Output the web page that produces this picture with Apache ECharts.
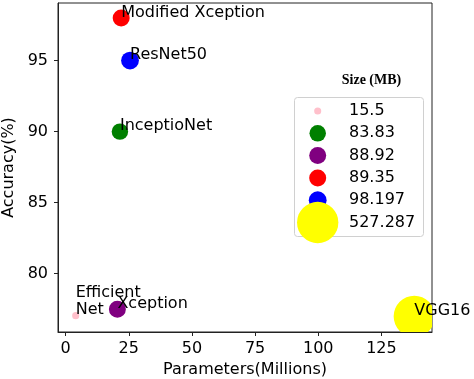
<!DOCTYPE html>
<html><head><meta charset="utf-8">
<script src="https://cdn.jsdelivr.net/npm/echarts@6/dist/echarts.min.js"></script>
<style>html,body{margin:0;padding:0;background:#fff}#c{width:474px;height:379px}</style>
</head><body><div id="c"></div>
<script>
// ---- data ----
const models = ['Efficient\nNet', 'InceptioNet', 'Xception', 'Modified Xception', 'ResNet50', 'VGG16'];
const params = [4, 21.5, 20.5, 22, 25.5, 138];
const accuracy = [77.05, 90, 77.5, 98, 95, 77];
const sizeMB = ['15.5', '83.83', '88.92', '89.35', '98.197', '527.287'];
const xTicks = [0, 25, 50, 75, 100, 125];
const yTicks = [80, 85, 90, 95];

// ---- style ----
const colors = ['#ffc0cb', '#008000', '#800080', '#ff0000', '#0000ff', '#ffff00'];
const diam = v => 1.8 * Math.sqrt(parseFloat(v));
const FONT = 'DejaVu Sans';
const axisCol = '#222';

const markerSeries = sizeMB.map((s, i) => ({
  type: 'custom',
  name: s,
  clip: true,
  z: 2,
  silent: true,
  itemStyle: { color: colors[i] },
  encode: { x: 0, y: 1 },
  data: [[params[i], accuracy[i]]],
  renderItem: (p, api) => {
    const pt = api.coord([api.value(0), api.value(1)]);
    return { type: 'circle', shape: { cx: pt[0], cy: pt[1], r: diam(s) / 2 }, style: { fill: colors[i] } };
  }
}));

const labelSeries = {
  type: 'scatter',
  name: 'labels',
  z: 10,
  silent: true,
  symbolSize: 1,
  itemStyle: { color: 'rgba(0,0,0,0)', opacity: 1 },
  emphasis: { disabled: true },
  label: {
    show: true, position: [0.5, 0.5], align: 'left', verticalAlign: 'bottom',
    offset: [0, 3], color: '#000', opacity: 1, textBorderWidth: 0, fontSize: 16, fontFamily: FONT, lineHeight: 17
  },
  data: params.map((x, i) => ({ value: [x, accuracy[i]], label: { formatter: models[i] } }))
};

const rowY0 = 111, rowStep = 22.3, iconCx = 317.7, textX = 349;
const legends = sizeMB.map((s, i) => {
  const d = diam(s);
  return {
    data: [s], icon: 'circle', selectedMode: false, padding: 0,
    left: iconCx - d / 2, top: rowY0 + rowStep * i - Math.max(d, 16) / 2,
    itemWidth: d, itemHeight: d,
    textStyle: { fontSize: 16, fontFamily: FONT, color: '#000', padding: [0, 0, 0, textX - (iconCx + d / 2 + 5)] }
  };
});

const chart = echarts.init(document.getElementById('c'), null, { renderer: 'canvas' });
chart.setOption({
  animation: false,
  backgroundColor: '#fff',
  grid: { left: 58, right: 42, top: 3, bottom: 47, outerBoundsMode: 'none', containLabel: false, show: true, borderColor: axisCol, borderWidth: 1, backgroundColor: 'transparent' },
  legend: legends,
  graphic: [
    { type: 'rect', z: 1, shape: { x: 294.5, y: 97.5, width: 129, height: 139, r: 3 }, style: { fill: '#fff', stroke: '#d0d0d0', lineWidth: 1 } },
    { type: 'text', z: 5, x: 371.5, y: 80, style: { text: 'Size (MB)', fontFamily: 'Liberation Serif', fontWeight: 'bold', fontSize: 14, fill: '#000', align: 'center', verticalAlign: 'middle' } }
  ],
  xAxis: {
    type: 'value', min: -3, max: 145,
    splitLine: { show: false },
    axisLine: { show: true, onZero: false, lineStyle: { color: axisCol } },
    axisTick: { show: true, customValues: xTicks, length: 4, lineStyle: { color: axisCol } },
    axisLabel: { customValues: xTicks, margin: 9, fontSize: 16, fontFamily: FONT, color: '#000' },
    name: 'Parameters(Millions)', nameLocation: 'middle', nameGap: 29,
    nameTextStyle: { fontSize: 16, fontFamily: FONT, color: '#000' }
  },
  yAxis: {
    type: 'value', min: 75.9, max: 99.05,
    splitLine: { show: false },
    axisLine: { show: true, onZero: false, lineStyle: { color: axisCol } },
    axisTick: { show: true, customValues: yTicks, length: 4, lineStyle: { color: axisCol } },
    axisLabel: { customValues: yTicks, margin: 10, fontSize: 16, fontFamily: FONT, color: '#000' },
    name: 'Accuracy(%)', nameLocation: 'middle', nameGap: 40, nameRotate: 90,
    nameTextStyle: { fontSize: 16, fontFamily: FONT, color: '#000' }
  },
  series: [...markerSeries, labelSeries]
});
</script></body></html>
